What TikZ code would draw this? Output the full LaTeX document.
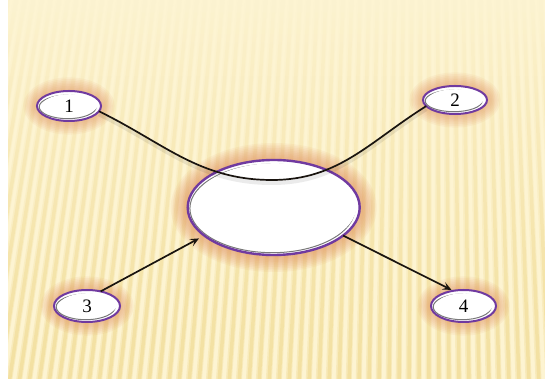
\documentclass[tikz,border=0pt]{standalone}
\usepackage{fontspec}
\setmainfont{Liberation Serif}
\usetikzlibrary{arrows.meta,shapes.geometric,fadings}

\definecolor{bgbase}{RGB}{253,244,210}
\definecolor{stripec}{RGB}{243,224,160}
\definecolor{rimc}{RGB}{112,58,160}
\definecolor{glowc}{RGB}{225,140,90}
\definecolor{innerc}{RGB}{120,120,120}
\definecolor{linec}{RGB}{25,20,15}

\tikzfading[name=stripefade, top color=transparent!100, middle color=transparent!50, bottom color=transparent!5]

% soft halo drawn as stacked translucent ellipses
\newcommand\glowat[4]{%
  \foreach \k in {1,...,#4} {%
    \fill[glowc, opacity=0.08] (#1) ellipse [x radius={#2+1.7*\k}, y radius={#3+1.7*\k}];
  }}

\tikzset{
  bubble/.style 2 args={ellipse, draw=rimc, line width=2pt, fill=white,
    inner sep=0pt, outer sep=0pt, minimum width=#1pt, minimum height=#2pt,
    font=\fontsize{19}{19}\selectfont,
    path picture={
      \draw[innerc, line width=1pt]
        ([shift={(-1.3,-0.9)}]path picture bounding box.center)
        ellipse [x radius={#1/2-3.5}, y radius={#2/2-3.2}];
      \fill[white]
        ([shift={(1.0,0.8)}]path picture bounding box.center)
        ellipse [x radius={#1/2-4.5}, y radius={#2/2-4}];
    }},
  connector/.style={draw=linec, line width=1.7pt},
  tip/.style={-{Stealth[length=9pt,width=8pt,inset=4pt]}},
  shadowed/.style={preaction={draw=black, opacity=0.08, line width=4pt,
    transform canvas={yshift=-3pt}}},
}

\begin{document}
\begin{tikzpicture}[x=1pt,y=1pt]
  \useasboundingbox (0,0) rectangle (545,379);

  % striped backdrop
  \fill[white] (0,0) rectangle (545,379);
  \fill[bgbase] (8,0) rectangle (545,379);
  \begin{scope}
    \clip (8,0) rectangle (545,379);
    \draw[stripec, line width=6pt, opacity=0.5, path fading=stripefade]
      \foreach \i in {-30,...,85} {({\i*10},-2) -- ({\i*10+(430-\i*10)*0.14},381)};
    \draw[stripec, line width=3.5pt, path fading=stripefade]
      \foreach \i in {-30,...,85} {({\i*10},-2) -- ({\i*10+(430-\i*10)*0.14},381)};
  \end{scope}

  % node positions
  \coordinate (p1) at (69,273);
  \coordinate (p2) at (455,279);
  \coordinate (p3) at (87,73);
  \coordinate (p4) at (463.5,73);
  \coordinate (pc) at (273.7,171.5);
  \coordinate (dip) at (272,199);

  % halos
  \glowat{p1}{32}{15}{8}
  \glowat{p2}{32}{14}{8}
  \glowat{p3}{33}{16}{8}
  \glowat{p4}{32.5}{16}{8}
  \glowat{pc}{86}{47.5}{10}

  % nodes
  \node[bubble={64}{30}] (n1) at (p1) {1};
  \node[bubble={64}{28}] (n2) at (p2) {2};
  \node[bubble={66}{32}] (n3) at (p3) {3};
  \node[bubble={65}{32}] (n4) at (p4) {4};
  \node[bubble={172}{95}, line width=2.4pt] (hub) at (pc) {};

  % connectors
  \draw[connector, shadowed] (n1.-10) to[out=-26, in=180] (dip)
    to[out=0, in=212] (n2.192);
  \draw[connector, tip, shorten >=6pt] (n3.47) -- (hub.202);
  \draw[connector, tip, shorten >=2pt] (hub.-22) -- (n4.124);
\end{tikzpicture}
\end{document}
